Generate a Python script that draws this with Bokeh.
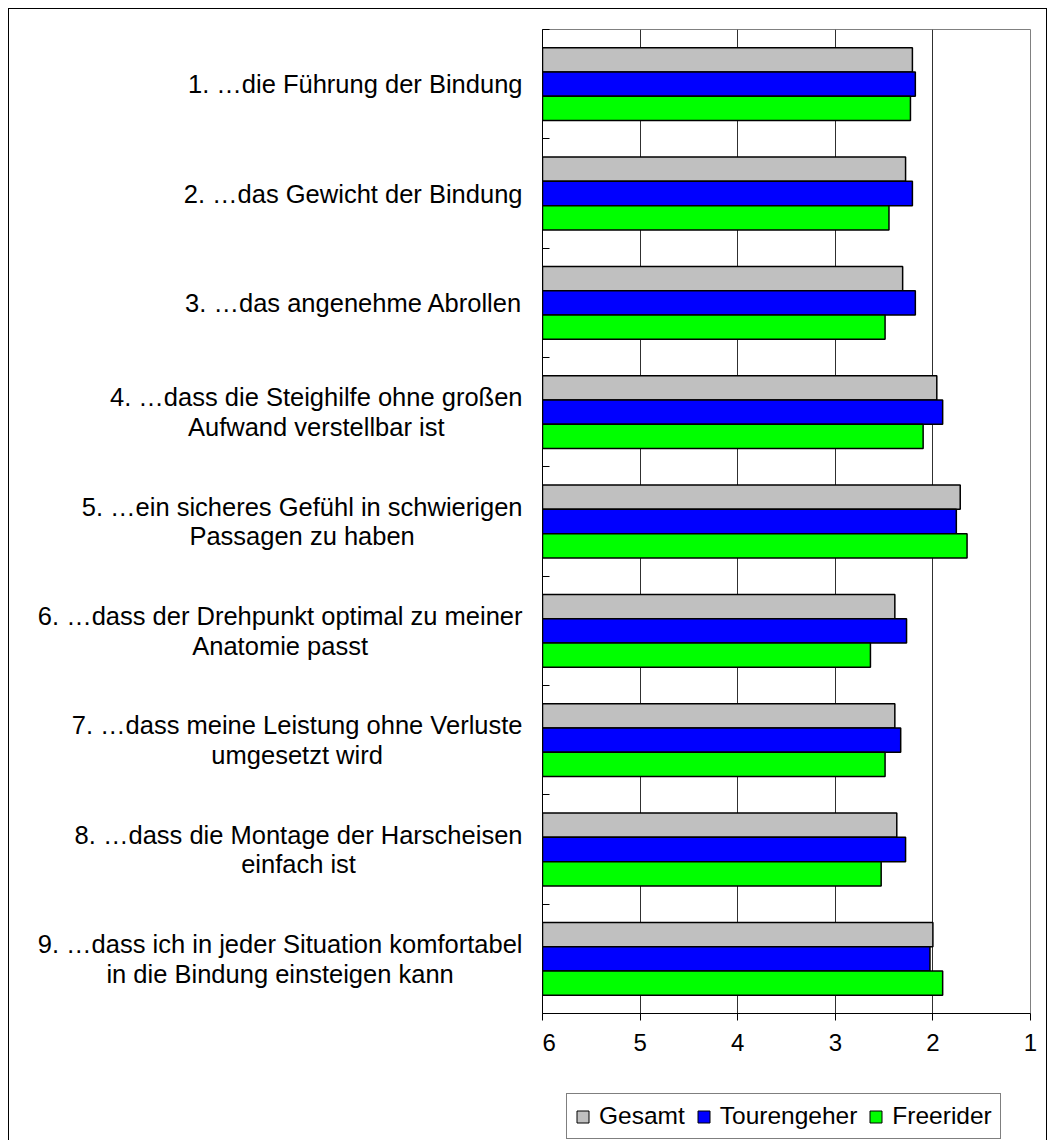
from bokeh.plotting import figure
from bokeh.models import ColumnDataSource, Range1d, FixedTicker
from bokeh.layouts import row, column
from bokeh.transform import dodge
from bokeh.core.properties import value
from bokeh.embed import file_html
from bokeh.resources import INLINE

categories = [
    "1. …die Führung der Bindung",
    "2. …das Gewicht der Bindung",
    "3. …das angenehme Abrollen",
    "4. …dass die Steighilfe ohne großen\nAufwand verstellbar ist",
    "5. …ein sicheres Gefühl in schwierigen\nPassagen zu haben",
    "6. …dass der Drehpunkt optimal zu meiner\nAnatomie passt",
    "7. …dass meine Leistung ohne Verluste\numgesetzt wird",
    "8. …dass die Montage der Harscheisen\neinfach ist",
    "9. …dass ich in jeder Situation komfortabel\nin die Bindung einsteigen kann",
]
gesamt = [2.21, 2.28, 2.31, 1.96, 1.72, 2.39, 2.39, 2.37, 2.00]
tourengeher = [2.18, 2.21, 2.18, 1.90, 1.76, 2.27, 2.33, 2.28, 2.03]
freerider = [2.23, 2.45, 2.49, 2.10, 1.65, 2.64, 2.49, 2.53, 1.90]
series_names = ["Gesamt", "Tourengeher", "Freerider"]
series_colors = ["#C0C0C0", "#0000FF", "#00FF00"]
x_ticks = [6, 5, 4, 3, 2, 1]

FONT = "Liberation Sans"
n = len(categories)
centers = [n - i - 0.5 for i in range(n)]
bar_h = 1 / 4.5

src = ColumnDataSource(dict(y=centers, cat=categories, g=gesamt, t=tourengeher, f=freerider))

TOP, FRAME_H, BOTTOM = 20, 984, 72
H = TOP + FRAME_H + BOTTOM
TOTAL_H = 1131

# ---- label column (shares the y scale with the bar chart)
pl = figure(width=533, height=H, output_backend="svg", toolbar_location=None,
            x_range=Range1d(0, 533), y_range=Range1d(0, n),
            x_axis_location=None, y_axis_location=None,
            min_border_left=0, min_border_right=0, min_border_top=TOP, min_border_bottom=BOTTOM)
pl.outline_line_color = None
pl.grid.visible = False
pl.text(x=513, y="y", text="cat", source=src, anchor="center_right",
        text_align="center", text_baseline="middle",
        text_font=value(FONT), text_font_size="25.5px", text_color="black",
        text_line_height=1.05)

# ---- bar chart
p = figure(width=504, height=H, output_backend="svg", toolbar_location=None,
           x_range=Range1d(6, 1), y_range=pl.y_range,
           min_border_left=0, min_border_right=16, min_border_top=TOP, min_border_bottom=BOTTOM)
p.outline_line_color = "#808080"
p.outline_line_width = 1

fields = ["g", "t", "f"]
offsets = [bar_h, 0, -bar_h]
for fld, col, off in zip(fields, series_colors, offsets):
    p.hbar(y=dodge("y", off, range=p.y_range), left=6, right=fld, height=bar_h, source=src,
           fill_color=col, line_color="black", line_width=1.5)

p.xaxis.ticker = FixedTicker(ticks=x_ticks)
p.xaxis.major_tick_out = 7
p.xaxis.major_tick_in = 0
p.xaxis.minor_tick_out = 0
p.xaxis.minor_tick_in = 0
p.xaxis.axis_line_color = "black"
p.xaxis.major_tick_line_color = "black"
p.xaxis.major_label_text_font = FONT
p.xaxis.major_label_text_font_size = "24px"
p.xaxis.major_label_text_color = "black"
p.xaxis.major_label_standoff = 13

p.yaxis.ticker = FixedTicker(ticks=centers, minor_ticks=list(range(n + 1)))
p.yaxis.major_label_overrides = {c: "" for c in centers}
p.yaxis.major_label_text_font_size = "0px"
p.yaxis.major_label_standoff = 0
p.yaxis.major_tick_in = 0
p.yaxis.major_tick_out = 0
p.yaxis.minor_tick_in = 7
p.yaxis.minor_tick_out = 0
p.yaxis.minor_tick_line_color = "black"
p.yaxis.axis_line_color = "black"

p.xgrid.ticker = FixedTicker(ticks=[5, 4, 3, 2])
p.xgrid.grid_line_color = "#303030"
p.ygrid.grid_line_color = None

# ---- legend strip (swatches keyed by the series names; the dummy bars lie off-view)
pleg = figure(width=1037, height=TOTAL_H - H, output_backend="svg", toolbar_location=None,
              x_range=Range1d(0, 1), y_range=Range1d(0, 1),
              x_axis_location=None, y_axis_location=None,
              min_border_left=0, min_border_right=0, min_border_top=0, min_border_bottom=0)
pleg.outline_line_color = None
pleg.grid.visible = False
legsrc = ColumnDataSource(dict(name=series_names, color=series_colors))
pleg.hbar(y=-10, left=0, right=1, height=1, source=legsrc, fill_color="color",
          line_color="black", line_width=1, legend_field="name")
leg = pleg.legend[0]
leg.orientation = "horizontal"
leg.location = (557, 1)
leg.margin = 0
leg.label_text_font = FONT
leg.label_text_font_size = "24.5px"
leg.label_text_color = "black"
leg.glyph_width = 15
leg.glyph_height = 15
leg.label_standoff = 9
leg.spacing = 11
leg.padding = 8
leg.border_line_color = "black"
leg.border_line_width = 1
leg.background_fill_color = "white"
leg.background_fill_alpha = 1

layout = column(row(pl, p), pleg)
layout.styles = {"border": "1px solid black", "margin-left": "8px", "margin-top": "8px"}

open("out.html", "w").write(file_html(layout, INLINE))
